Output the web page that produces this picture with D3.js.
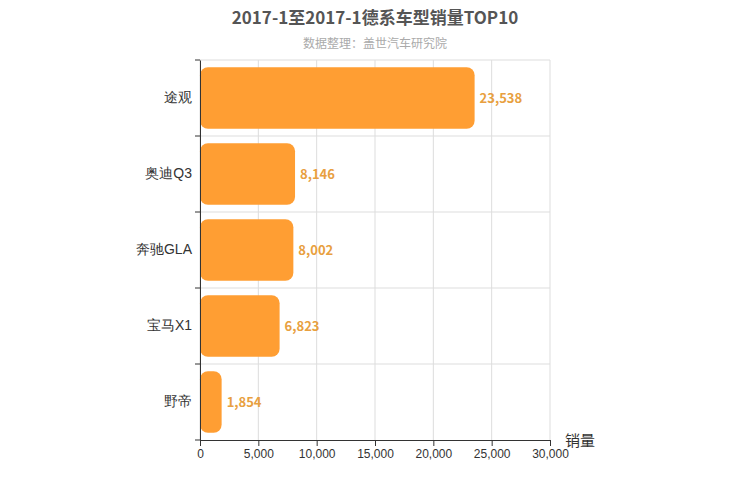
<!DOCTYPE html>
<html><head><meta charset="utf-8">
<script src="https://cdn.jsdelivr.net/npm/d3@7"></script>
<style>body{margin:0;background:#fff;font-family:"Noto Sans CJK SC","Noto Sans",sans-serif;}</style>
</head><body><svg id="c" width="750" height="500"></svg>
<script>
const categories=["途观","奥迪Q3","奔驰GLA","宝马X1","野帝"];
const values=[23538,8146,8002,6823,1854];
const ticks=[0,5000,10000,15000,20000,25000,30000];
const svg=d3.select("#c");
const m={l:200,r:550,t:60,b:440};
const x=d3.scaleLinear().domain([0,30000]).range([m.l,m.r]);
const y=d3.scaleBand().domain(categories).range([m.t,m.b]).paddingInner(0.19).paddingOuter(0.095);
const yb=d3.scaleBand().domain(categories).range([m.t,m.b]);
svg.append("text").attr("x",375).attr("y",24).attr("text-anchor","middle").attr("font-size",17).attr("font-weight","bold").attr("fill","#555").text("2017-1至2017-1德系车型销量TOP10");
svg.append("text").attr("x",375).attr("y",48).attr("text-anchor","middle").attr("font-size",12).attr("fill","#aaa").text("数据整理：盖世汽车研究院");
const g=svg.append("g");
ticks.forEach(t=>g.append("line").attr("x1",x(t)).attr("x2",x(t)).attr("y1",m.t).attr("y2",m.b).attr("stroke","#ddd"));
categories.forEach(c=>g.append("line").attr("x1",m.l).attr("x2",m.r).attr("y1",yb(c)).attr("y2",yb(c)).attr("stroke","#ddd"));
svg.selectAll(".bar").data(values).enter().append("rect").attr("x",x(0)).attr("y",(d,i)=>y(categories[i])).attr("width",d=>x(d)-x(0)).attr("height",y.bandwidth()).attr("rx",8).attr("fill","#ff9e33");
svg.selectAll(".lab").data(values).enter().append("text").attr("x",d=>x(d)+5).attr("y",(d,i)=>y(categories[i])+y.bandwidth()/2+5).attr("font-size",13).attr("font-weight","bold").attr("fill","#e8a040").text(d=>d3.format(",")(d));
const xa=svg.append("g").attr("transform",`translate(0,${m.b})`).call(d3.axisBottom(x).tickValues(ticks).tickFormat(d3.format(",")).tickSizeOuter(0));
xa.selectAll("text").attr("font-size",12).attr("fill","#333");
xa.selectAll("line,path").attr("stroke","#333");
const ya=svg.append("g").attr("transform",`translate(${m.l},0)`).call(d3.axisLeft(yb).tickSize(0).tickPadding(8));
ya.selectAll("text").attr("font-size",14).attr("fill","#333");
ya.select("path").attr("stroke","#333");
categories.forEach(c=>svg.append("line").attr("x1",m.l-5).attr("x2",m.l).attr("y1",yb(c)).attr("y2",yb(c)).attr("stroke","#333"));
svg.append("line").attr("x1",m.l-5).attr("x2",m.l).attr("y1",m.b).attr("y2",m.b).attr("stroke","#333");
svg.append("text").attr("x",565).attr("y",446).attr("font-size",15).attr("fill","#333").text("销量");
</script></body></html>
